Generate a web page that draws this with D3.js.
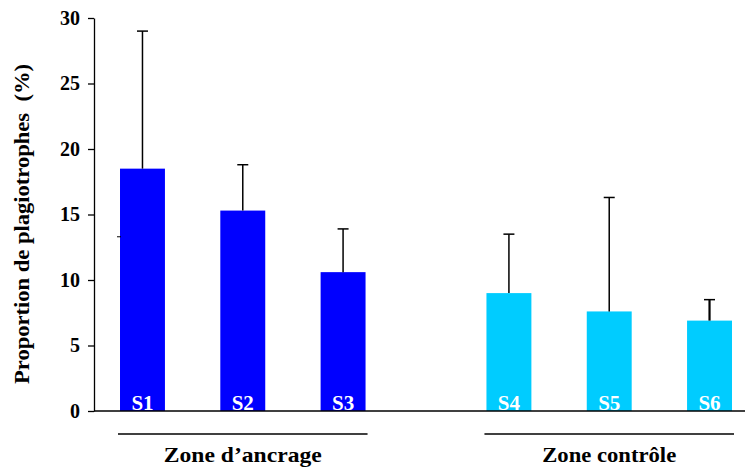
<!DOCTYPE html>
<html>
<head>
<meta charset="utf-8">
<script src="https://cdn.jsdelivr.net/npm/d3@7/dist/d3.min.js"></script>
<style>
  html, body { margin: 0; padding: 0; background: #fff; }
  svg text { font-family: "Liberation Serif", "Times New Roman", serif; font-weight: bold; }
</style>
</head>
<body>
<svg id="chart" width="746" height="467"></svg>
<script>
// Sites, grouped by zone
const zones = ["Zone d\u2019ancrage", "Zone contr\u00f4le"];
const sites = ["S1", "S2", "S3", "S4", "S5", "S6"];
const siteZone = [0, 0, 0, 1, 1, 1];
// Mean proportion of plagiotrophs (%) and upper error (mean + SD)
const means = [18.5, 15.3, 10.6, 9.0, 7.6, 6.9];
const upper = [29.0, 18.8, 13.9, 13.5, 16.3, 8.5];
const yTicks = [0, 5, 10, 15, 20, 25, 30];
const zoneColors = ["#0000ff", "#00ccff"];
const yTitle = "Proportion de plagiotrophes\u00a0 (%)";

const svg = d3.select("#chart");
const axisX = 94, plotTop = 18, plotBottom = 411, plotRight = 745;

const y = d3.scaleLinear().domain([0, 30]).range([plotBottom, plotTop]);

// Outer band: one band per zone; inner band: sites within a zone
const xZone = d3.scaleBand().domain(zones).range([118, 734]).paddingInner(0.319);
const xSite = d3.scaleBand().domain([0, 1, 2]).range([0, xZone.bandwidth()])
  .paddingInner(0.552).paddingOuter(0.02);

const data = sites.map((s, i) => ({
  site: s, zone: zones[siteZone[i]], idx: i % 3,
  mean: means[i], up: upper[i], color: zoneColors[siteZone[i]]
}));
const bx = d => xZone(d.zone) + xSite(d.idx);
const cx = d => bx(d) + xSite.bandwidth() / 2;

// Bars
svg.append("g").selectAll("rect").data(data).join("rect")
  .attr("x", bx)
  .attr("y", d => y(d.mean))
  .attr("width", xSite.bandwidth())
  .attr("height", d => y(0) - y(d.mean))
  .attr("fill", d => d.color);

// Upper error bars
const eb = svg.append("g").attr("stroke", "#000").attr("stroke-width", 1.5);
eb.selectAll("line.v").data(data).join("line").attr("class", "v")
  .attr("x1", cx).attr("x2", cx)
  .attr("y1", d => y(d.mean)).attr("y2", d => y(d.up))
  .attr("stroke-width", d => d.site === "S6" ? 2.2 : 1.5);
eb.selectAll("line.c").data(data).join("line").attr("class", "c")
  .attr("x1", d => cx(d) - 5.5).attr("x2", d => cx(d) + 5.5)
  .attr("y1", d => y(d.up)).attr("y2", d => y(d.up));

// Site labels inside bars
svg.append("g").selectAll("text").data(data).join("text")
  .attr("x", cx).attr("y", plotBottom - 1.5)
  .attr("text-anchor", "middle")
  .attr("fill", "#fff")
  .attr("font-size", 21)
  .text(d => d.site);

// Y axis
const yAxis = d3.axisLeft(y).tickValues(yTicks).tickSize(6).tickPadding(8).tickSizeOuter(0);
const gy = svg.append("g").attr("transform", `translate(${axisX},0)`).call(yAxis);
gy.select(".domain").attr("stroke", "#000").attr("stroke-width", 1.3);
gy.selectAll(".tick line").attr("stroke", "#000").attr("stroke-width", 1.3);
gy.selectAll(".tick text").attr("font-size", 20).attr("fill", "#000")
  .attr("font-family", "Liberation Serif, serif").attr("font-weight", "bold");

// Baseline
svg.append("line").attr("x1", axisX).attr("x2", plotRight)
  .attr("y1", y(0)).attr("y2", y(0))
  .attr("stroke", "#000").attr("stroke-width", 1.5);

// Small stray tick next to the axis
svg.append("line").attr("x1", 117).attr("x2", 121)
  .attr("y1", y(13.3)).attr("y2", y(13.3))
  .attr("stroke", "#000").attr("stroke-width", 1);

// Y axis title
svg.append("text")
  .attr("transform", "translate(28.5,224) rotate(-90)")
  .attr("text-anchor", "middle")
  .attr("font-size", 21)
  .attr("textLength", 320)
  .attr("lengthAdjust", "spacingAndGlyphs")
  .attr("fill", "#000")
  .text(yTitle);

// Zone group lines and labels
const zoneLabelLen = [158, 134];
const zg = svg.append("g").selectAll("g").data(zones).join("g");
zg.append("line")
  .attr("x1", d => xZone(d)).attr("x2", d => xZone(d) + xZone.bandwidth())
  .attr("y1", 434).attr("y2", 434)
  .attr("stroke", "#000").attr("stroke-width", 1.3);
zg.append("text")
  .attr("x", d => xZone(d) + xZone.bandwidth() / 2)
  .attr("y", 462)
  .attr("text-anchor", "middle")
  .attr("font-size", 21)
  .attr("textLength", (d, i) => zoneLabelLen[i])
  .attr("lengthAdjust", "spacingAndGlyphs")
  .attr("fill", "#000")
  .text(d => d);
</script>
</body>
</html>
